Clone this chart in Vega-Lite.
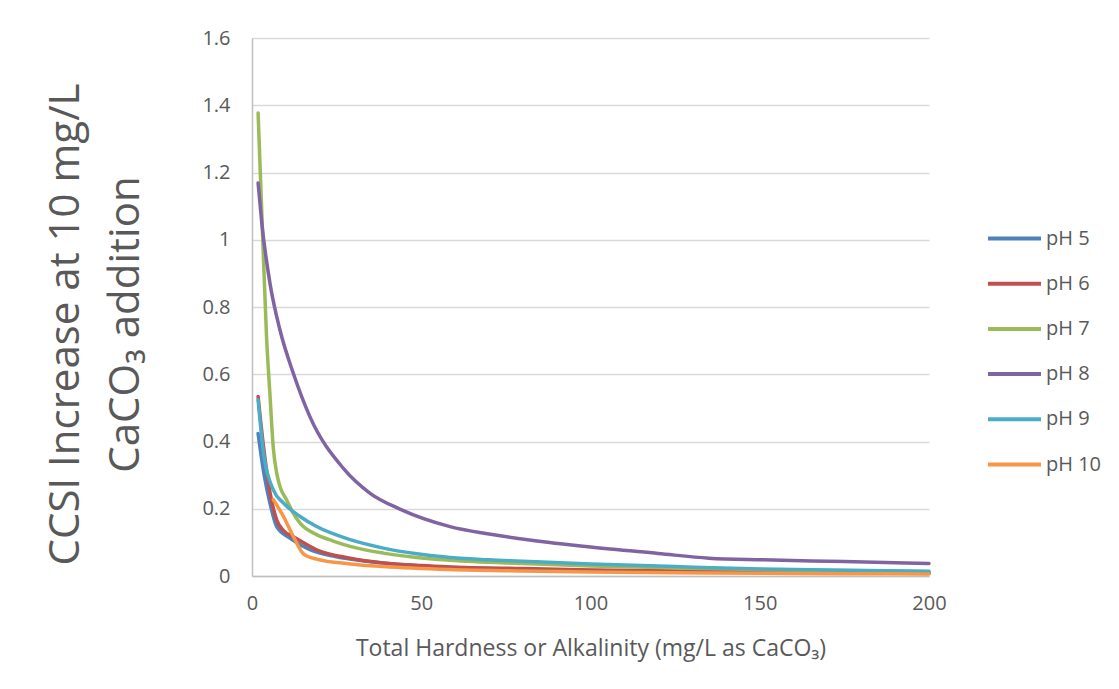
{
  "$schema": "https://vega.github.io/schema/vega-lite/v6.json",
  "width": 677,
  "height": 538,
  "autosize": {"type": "none"},
  "padding": {"left": 252, "top": 38, "right": 190, "bottom": 113},
  "background": "white",
  "config": {
    "font": "Open Sans",
    "view": {"stroke": null},
    "axis": {"labelColor": "#595959", "titleColor": "#595959", "titleFontWeight": "normal", "labelFlush": false}
  },
  "data": {"values": [
    {"x": 1.8, "v": 0.424, "s": "pH 5"}, {"x": 3.6, "v": 0.3, "s": "pH 5"}, {"x": 5.3, "v": 0.217, "s": "pH 5"}, {"x": 7.3, "v": 0.147, "s": "pH 5"}, {"x": 11.2, "v": 0.113, "s": "pH 5"}, {"x": 17.1, "v": 0.078, "s": "pH 5"}, {"x": 24.6, "v": 0.058, "s": "pH 5"}, {"x": 32, "v": 0.046, "s": "pH 5"}, {"x": 40, "v": 0.037, "s": "pH 5"}, {"x": 50, "v": 0.03, "s": "pH 5"}, {"x": 60, "v": 0.025, "s": "pH 5"}, {"x": 80, "v": 0.02, "s": "pH 5"}, {"x": 100, "v": 0.016, "s": "pH 5"}, {"x": 125, "v": 0.013, "s": "pH 5"}, {"x": 150, "v": 0.011, "s": "pH 5"}, {"x": 175, "v": 0.009, "s": "pH 5"}, {"x": 200, "v": 0.008, "s": "pH 5"},
    {"x": 1.8, "v": 0.534, "s": "pH 6"}, {"x": 3.4, "v": 0.385, "s": "pH 6"}, {"x": 5.3, "v": 0.25, "s": "pH 6"}, {"x": 7.3, "v": 0.167, "s": "pH 6"}, {"x": 9.3, "v": 0.135, "s": "pH 6"}, {"x": 12.2, "v": 0.117, "s": "pH 6"}, {"x": 19.1, "v": 0.078, "s": "pH 6"}, {"x": 29, "v": 0.053, "s": "pH 6"}, {"x": 38.8, "v": 0.039, "s": "pH 6"}, {"x": 50, "v": 0.031, "s": "pH 6"}, {"x": 58.5, "v": 0.027, "s": "pH 6"}, {"x": 80, "v": 0.022, "s": "pH 6"}, {"x": 100, "v": 0.018, "s": "pH 6"}, {"x": 125, "v": 0.015, "s": "pH 6"}, {"x": 150, "v": 0.012, "s": "pH 6"}, {"x": 175, "v": 0.01, "s": "pH 6"}, {"x": 200, "v": 0.009, "s": "pH 6"},
    {"x": 1.8, "v": 1.377, "s": "pH 7"}, {"x": 3, "v": 1.05, "s": "pH 7"}, {"x": 4.3, "v": 0.71, "s": "pH 7"}, {"x": 5.3, "v": 0.54, "s": "pH 7"}, {"x": 6.3, "v": 0.38, "s": "pH 7"}, {"x": 7.3, "v": 0.306, "s": "pH 7"}, {"x": 8.3, "v": 0.265, "s": "pH 7"}, {"x": 10.2, "v": 0.227, "s": "pH 7"}, {"x": 12, "v": 0.19, "s": "pH 7"}, {"x": 14.2, "v": 0.157, "s": "pH 7"}, {"x": 19.1, "v": 0.123, "s": "pH 7"}, {"x": 24, "v": 0.104, "s": "pH 7"}, {"x": 29, "v": 0.088, "s": "pH 7"}, {"x": 38.8, "v": 0.068, "s": "pH 7"}, {"x": 48, "v": 0.056, "s": "pH 7"}, {"x": 58.5, "v": 0.047, "s": "pH 7"}, {"x": 80, "v": 0.037, "s": "pH 7"}, {"x": 100, "v": 0.03, "s": "pH 7"}, {"x": 125, "v": 0.024, "s": "pH 7"}, {"x": 150, "v": 0.019, "s": "pH 7"}, {"x": 175, "v": 0.016, "s": "pH 7"}, {"x": 200, "v": 0.013, "s": "pH 7"},
    {"x": 1.8, "v": 1.169, "s": "pH 8"}, {"x": 2.9, "v": 1.049, "s": "pH 8"}, {"x": 5.3, "v": 0.871, "s": "pH 8"}, {"x": 8.3, "v": 0.73, "s": "pH 8"}, {"x": 12.2, "v": 0.603, "s": "pH 8"}, {"x": 17.1, "v": 0.474, "s": "pH 8"}, {"x": 27, "v": 0.32, "s": "pH 8"}, {"x": 34.9, "v": 0.246, "s": "pH 8"}, {"x": 43.7, "v": 0.199, "s": "pH 8"}, {"x": 58.5, "v": 0.147, "s": "pH 8"}, {"x": 70, "v": 0.125, "s": "pH 8"}, {"x": 82, "v": 0.107, "s": "pH 8"}, {"x": 100, "v": 0.086, "s": "pH 8"}, {"x": 120, "v": 0.067, "s": "pH 8"}, {"x": 135, "v": 0.053, "s": "pH 8"}, {"x": 151, "v": 0.048, "s": "pH 8"}, {"x": 175, "v": 0.043, "s": "pH 8"}, {"x": 200, "v": 0.037, "s": "pH 8"},
    {"x": 1.8, "v": 0.524, "s": "pH 9"}, {"x": 3.4, "v": 0.366, "s": "pH 9"}, {"x": 6.3, "v": 0.256, "s": "pH 9"}, {"x": 9.3, "v": 0.217, "s": "pH 9"}, {"x": 14.2, "v": 0.177, "s": "pH 9"}, {"x": 19.1, "v": 0.147, "s": "pH 9"}, {"x": 29, "v": 0.108, "s": "pH 9"}, {"x": 38.8, "v": 0.083, "s": "pH 9"}, {"x": 48.7, "v": 0.066, "s": "pH 9"}, {"x": 58.5, "v": 0.055, "s": "pH 9"}, {"x": 70, "v": 0.048, "s": "pH 9"}, {"x": 80, "v": 0.044, "s": "pH 9"}, {"x": 100, "v": 0.036, "s": "pH 9"}, {"x": 125, "v": 0.028, "s": "pH 9"}, {"x": 150, "v": 0.021, "s": "pH 9"}, {"x": 175, "v": 0.017, "s": "pH 9"}, {"x": 200, "v": 0.014, "s": "pH 9"},
    {"x": 6.3, "v": 0.227, "s": "pH 10"}, {"x": 9.3, "v": 0.177, "s": "pH 10"}, {"x": 12.2, "v": 0.118, "s": "pH 10"}, {"x": 15.2, "v": 0.066, "s": "pH 10"}, {"x": 19.1, "v": 0.05, "s": "pH 10"}, {"x": 29, "v": 0.036, "s": "pH 10"}, {"x": 38.8, "v": 0.028, "s": "pH 10"}, {"x": 58.5, "v": 0.019, "s": "pH 10"}, {"x": 80, "v": 0.015, "s": "pH 10"}, {"x": 100, "v": 0.012, "s": "pH 10"}, {"x": 125, "v": 0.01, "s": "pH 10"}, {"x": 150, "v": 0.008, "s": "pH 10"}, {"x": 175, "v": 0.007, "s": "pH 10"}, {"x": 200, "v": 0.006, "s": "pH 10"}
  ]},
  "mark": {"type": "line", "strokeWidth": 3.5, "interpolate": "monotone", "strokeCap": "round"},
  "encoding": {
    "x": {
      "field": "x", "type": "quantitative",
      "scale": {"domain": [0, 200], "nice": false},
      "axis": {
        "values": [0, 50, 100, 150, 200],
        "title": "Total Hardness or Alkalinity (mg/L as CaCO₃)",
        "titleFontSize": 23, "titlePadding": 24,
        "labelFontSize": 20, "labelPadding": 17,
        "ticks": false, "grid": false,
        "domainColor": "#bfbfbf", "domainWidth": 1.5
      }
    },
    "y": {
      "field": "v", "type": "quantitative",
      "scale": {"domain": [0, 1.6], "nice": false},
      "axis": {
        "values": [0, 0.2, 0.4, 0.6, 0.8, 1, 1.2, 1.4, 1.6],
        "format": ".1~f",
        "title": ["CCSI Increase at 10 mg/L", "CaCO₃ addition"],
        "titleFontSize": 42, "titleLineHeight": 60,
        "titleAngle": -90, "titleBaseline": "middle", "titleAlign": "center",
        "titleX": -187, "titleY": 286,
        "labelFontSize": 20, "labelPadding": 22,
        "ticks": false,
        "gridColor": "#d9d9d9", "gridWidth": 1.5,
        "domainColor": "#bfbfbf", "domainWidth": 1.5
      }
    },
    "color": {
      "field": "s", "type": "nominal",
      "scale": {
        "domain": ["pH 5", "pH 6", "pH 7", "pH 8", "pH 9", "pH 10"],
        "range": ["#4f81bd", "#c0504d", "#9bbb59", "#8064a2", "#4bacc6", "#f79646"]
      },
      "legend": {
        "title": null,
        "orient": "none", "legendX": 734, "legendY": 172,
        "symbolType": "stroke", "symbolSize": 2809, "symbolStrokeWidth": 4,
        "labelFontSize": 20, "labelColor": "#595959", "labelOffset": 3,
        "rowPadding": 6.2
      }
    },
    "order": {"field": "x", "type": "quantitative"}
  }
}
